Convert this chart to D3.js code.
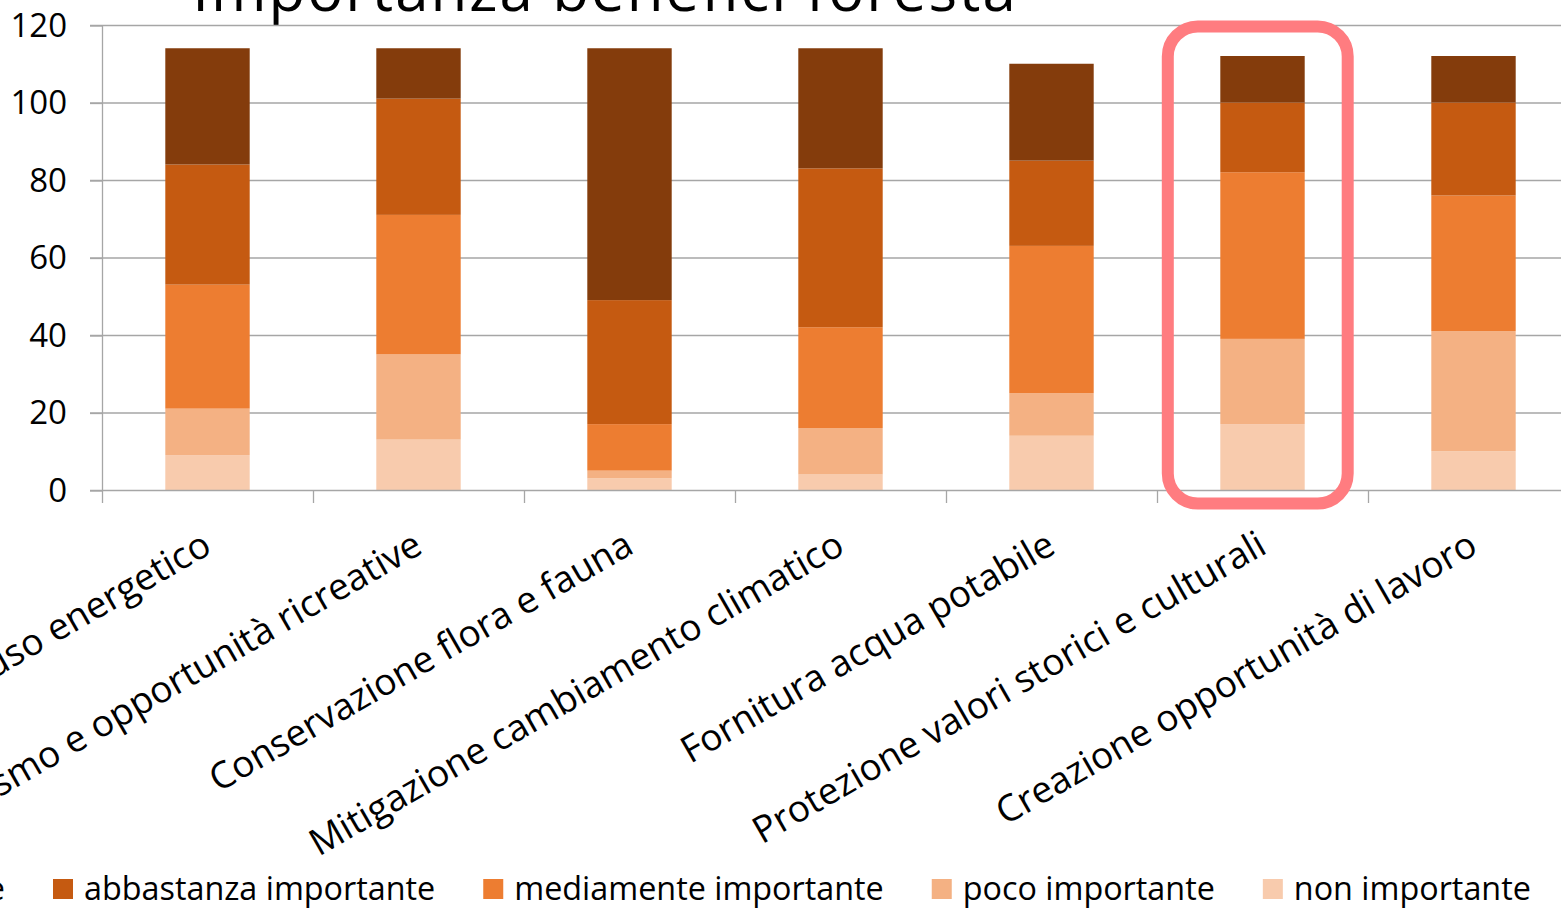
<!DOCTYPE html>
<html>
<head>
<meta charset="utf-8">
<script src="https://cdn.jsdelivr.net/npm/d3@7"></script>
<style>
  html, body { margin: 0; padding: 0; background: #fff; overflow: hidden; }
  svg { display: block; }
  text { font-family: "Open Sans", sans-serif; fill: #000; }
</style>
</head>
<body>
<svg id="chart" width="1561" height="908"></svg>
<script>
// ---- Data ----
const title = "Importanza benefici foresta";
const categories = [
  "Legna per uso energetico",
  "Turismo e opportunità ricreative",
  "Conservazione flora e fauna",
  "Mitigazione cambiamento climatico",
  "Fornitura acqua potabile",
  "Protezione valori storici e culturali",
  "Creazione opportunità di lavoro"
];
const seriesNames = ["non importante", "poco importante", "mediamente importante", "abbastanza importante", "molto importante"];
const nonImportante        = [9, 13, 3, 4, 14, 17, 10];
const pocoImportante       = [12, 22, 2, 12, 11, 22, 31];
const mediamenteImportante = [32, 36, 12, 26, 38, 43, 35];
const abbastanzaImportante = [31, 30, 32, 41, 22, 18, 24];
const moltoImportante      = [30, 13, 65, 31, 25, 12, 12];
const yTicks = [0, 20, 40, 60, 80, 100, 120];
const highlightedCategory = "Protezione valori storici e culturali";
const legendOrder = ["molto importante", "abbastanza importante", "mediamente importante", "poco importante", "non importante"];

// ---- Styles ----
const colors = {
  "non importante": "#F8CBAD",
  "poco importante": "#F4B183",
  "mediamente importante": "#ED7D31",
  "abbastanza importante": "#C55A11",
  "molto importante": "#843C0C"
};

const svg = d3.select("#chart");
const W = 1561;

const table = categories.map((c, i) => ({
  cat: c,
  "non importante": nonImportante[i],
  "poco importante": pocoImportante[i],
  "mediamente importante": mediamenteImportante[i],
  "abbastanza importante": abbastanzaImportante[i],
  "molto importante": moltoImportante[i]
}));

const x = d3.scaleBand().domain(categories).range([102, 1579]).paddingInner(0.6).paddingOuter(0.3);
const y = d3.scaleLinear().domain([0, 120]).range([490, 25]);

const gridColor = "#A6A6A6";

// title (behind everything)
svg.append("text").attr("x", 605).attr("y", 11).attr("text-anchor", "middle")
  .attr("font-size", 60).attr("letter-spacing", 2).text(title);

// gridlines
svg.append("g").selectAll("line").data(yTicks.filter(t => t > 0)).join("line")
  .attr("x1", 90).attr("x2", W)
  .attr("y1", d => y(d) + 0.5).attr("y2", d => y(d) + 0.5)
  .attr("stroke", gridColor).attr("stroke-width", 1.3);

// y axis
const yAxis = d3.axisLeft(y).tickValues(yTicks).tickSize(12).tickPadding(22).tickFormat(d3.format("d"));
const gy = svg.append("g").attr("transform", "translate(102,0)").call(yAxis);
gy.select(".domain").attr("stroke", gridColor).attr("stroke-width", 1.3).attr("d", `M0.5,${y(120)}V${y(0)}`);
gy.selectAll(".tick line").attr("stroke", gridColor).attr("stroke-width", 1.3).attr("transform", "translate(0,0.5)");
gy.selectAll(".tick text").attr("font-size", 33).attr("font-family", "Open Sans").attr("fill", "#000").attr("dy", "0.34em").attr("x", -35);

// stacked bars
const stack = d3.stack().keys(seriesNames);
const layers = stack(table);
svg.append("g").selectAll("g").data(layers).join("g")
  .attr("fill", d => colors[d.key])
  .selectAll("rect").data(d => d).join("rect")
  .attr("x", d => x(d.data.cat))
  .attr("width", x.bandwidth())
  .attr("y", d => y(d[1]))
  .attr("height", d => y(d[0]) - y(d[1]));

// x axis
const boundaries = categories.map(c => x(c) - x.step() * 0.3);
const gx = svg.append("g");
gx.append("line").attr("x1", 90).attr("x2", W).attr("y1", y(0) + 0.5).attr("y2", y(0) + 0.5)
  .attr("stroke", gridColor).attr("stroke-width", 1.3);
gx.selectAll("line.tk").data(boundaries).join("line").attr("class", "tk")
  .attr("x1", d => d + 0.5).attr("x2", d => d + 0.5)
  .attr("y1", y(0)).attr("y2", y(0) + 13)
  .attr("stroke", gridColor).attr("stroke-width", 1.3);

// category labels
svg.append("g").selectAll("text").data(categories).join("text")
  .attr("transform", d => `translate(${x(d) + x.bandwidth() / 2 + 6},552) rotate(-30)`)
  .attr("text-anchor", "end")
  .attr("font-size", 37)
  .text(d => d);

// highlight box
const hx = x(highlightedCategory);
svg.append("rect")
  .attr("x", hx - 52.5).attr("y", y(120) + 1.5)
  .attr("width", x.bandwidth() + 95.5).attr("height", y(0) - y(120) + 12)
  .attr("rx", 30).attr("ry", 30)
  .attr("fill", "none").attr("stroke", "#FF7C80").attr("stroke-width", 12);

// legend
const legend = svg.append("g");
const items = legend.selectAll("g").data(legendOrder).join("g");
items.append("rect").attr("width", 20).attr("height", 20).attr("y", 879).attr("fill", d => colors[d]);
items.append("text").attr("x", 31).attr("y", 900).attr("font-size", 32.35).text(d => d);
// lay out: "abbastanza importante" swatch sits at x=53
const widths = [];
items.each(function() { widths.push(d3.select(this).select("text").node().getComputedTextLength()); });
const itemW = widths.map(w => 31 + w + 48);
const pos = [53 - itemW[0]];
for (let i = 1; i < itemW.length; i++) pos[i] = pos[i - 1] + itemW[i - 1];
items.attr("transform", (d, i) => `translate(${pos[i]},0)`);
</script>
</body>
</html>
